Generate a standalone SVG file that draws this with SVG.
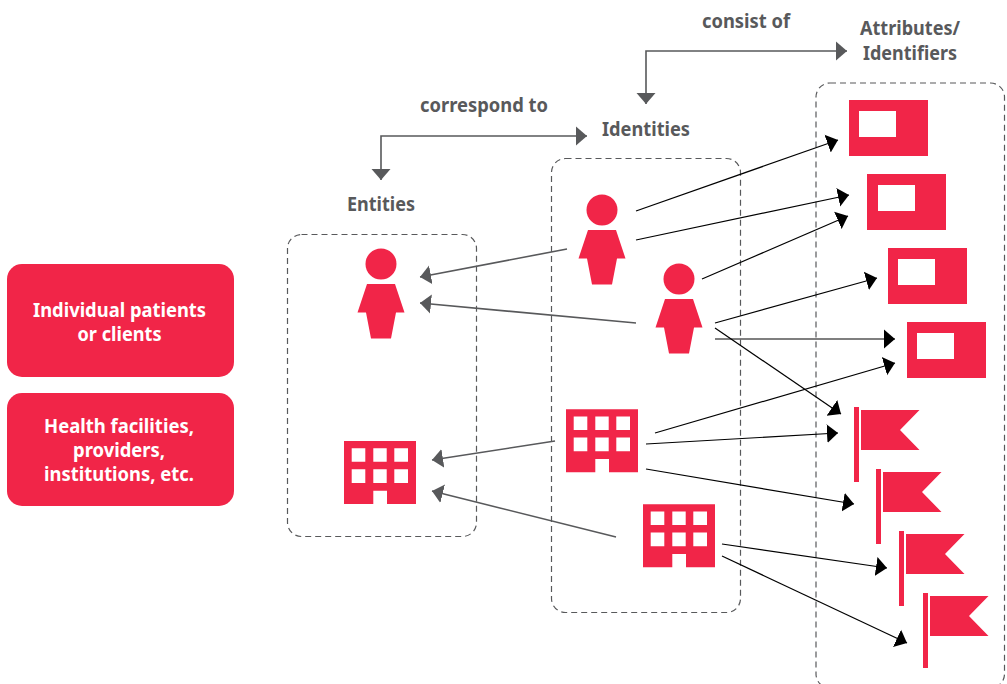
<svg xmlns="http://www.w3.org/2000/svg" xmlns:xlink="http://www.w3.org/1999/xlink" width="1007" height="684" viewBox="0 0 1007 684">
<style>
.red{fill:#f12548}
.win{fill:#fff}
.label{font-family:"Noto Sans","Open Sans","Liberation Sans",sans-serif;font-weight:700;font-size:19.5px;fill:#58595b;text-anchor:middle}
.wlabel{font-family:"Noto Sans","Open Sans","Liberation Sans",sans-serif;font-weight:700;font-size:20px;fill:#fff;text-anchor:middle}
.group{fill:none;stroke:#58595b;stroke-width:1.2;stroke-dasharray:6 4}
.k{fill:none;stroke:#000;stroke-width:1.2;marker-end:url(#ak)}
.g{fill:none;stroke:#58595b;stroke-width:1.6;marker-end:url(#ag);marker-start:url(#ag)}
.g1{fill:none;stroke:#58595b;stroke-width:1.6;marker-end:url(#ag)}
</style>
<defs>
<marker id="ak" markerUnits="userSpaceOnUse" markerWidth="13" markerHeight="22" viewBox="0 0 13 22" refX="11" refY="11" orient="auto-start-reverse"><path d="M0 1.500L11 11L0 20.500Z" fill="#000"/></marker>
<marker id="ag" markerUnits="userSpaceOnUse" markerWidth="13" markerHeight="22" viewBox="0 0 13 22" refX="11" refY="11" orient="auto-start-reverse"><path d="M0 1.500L11 11L0 20.500Z" fill="#58595b"/></marker>
<g id="person"><circle cx="0" cy="0" r="15.5" class="red"/><path class="red" d="M-14 20H14L23.500 48.500H15L10 74.500H-10L-15 48.500H-23.500Z"/></g>
<g id="building"><path class="red" d="M0 0H72V63H43V49.700H29.300V63H0Z"/><path class="win" d="M7.700 7.300h13.600v13.400h-13.600zM29.300 7.300h13.400v13.400h-13.400zM50.300 7.300h13.700v13.400h-13.700zM7.700 28.300h13.600v13.700h-13.600zM29.300 28.300h13.400v13.700h-13.400zM50.300 28.300h13.700v13.700h-13.700z"/></g>
<g id="flag"><rect x="0" y="0" width="5" height="75" class="red"/><path class="red" d="M7 3H65.500L46 23L65.500 43H7Z"/></g>
</defs>
<g id="legend-individuals"><rect x="7" y="264" width="227" height="113" rx="15" class="red"/><text class="wlabel" x="119.500" y="317" textLength="173" lengthAdjust="spacingAndGlyphs">Individual patients</text><text class="wlabel" x="119.500" y="341" textLength="84" lengthAdjust="spacingAndGlyphs">or clients</text></g>
<g id="legend-facilities"><rect x="7" y="393" width="227" height="113" rx="15" class="red"/><text class="wlabel" x="119" y="432.500" textLength="150" lengthAdjust="spacingAndGlyphs">Health facilities,</text><text class="wlabel" x="119" y="456.500" textLength="92" lengthAdjust="spacingAndGlyphs">providers,</text><text class="wlabel" x="119" y="480.500" textLength="150" lengthAdjust="spacingAndGlyphs">institutions, etc.</text></g>
<g id="entities"><rect class="group" x="287.500" y="234.500" width="189" height="302" rx="14"/><text class="label" x="381" y="211" textLength="68" lengthAdjust="spacingAndGlyphs">Entities</text></g>
<g id="identities"><rect class="group" x="551.500" y="158.500" width="189" height="454" rx="14"/><text class="label" x="646" y="136" textLength="88" lengthAdjust="spacingAndGlyphs">Identities</text></g>
<g id="attributes"><rect class="group" x="816" y="83" width="188.500" height="605" rx="14"/><text class="label" x="910" y="35" textLength="100" lengthAdjust="spacingAndGlyphs">Attributes/</text><text class="label" x="910" y="60" textLength="94" lengthAdjust="spacingAndGlyphs">Identifiers</text></g>
<text class="label" x="484" y="112" textLength="128" lengthAdjust="spacingAndGlyphs">correspond to</text>
<text class="label" x="746" y="28" textLength="88" lengthAdjust="spacingAndGlyphs">consist of</text>
<g id="entity-person"><use xlink:href="#person" href="#person" x="381" y="264"/></g>
<g id="entity-building"><use xlink:href="#building" href="#building" x="344" y="441"/></g>
<g id="identity-person-1"><use xlink:href="#person" href="#person" x="602" y="210"/></g>
<g id="identity-person-2"><use xlink:href="#person" href="#person" x="679" y="279"/></g>
<g id="identity-building-1"><use xlink:href="#building" href="#building" x="566" y="409.300"/></g>
<g id="identity-building-2"><use xlink:href="#building" href="#building" x="643" y="504.300"/></g>
<g id="card-1"><rect x="849" y="100" width="79" height="56" class="red"/><rect x="859" y="111" width="37" height="26" class="win"/></g>
<g id="card-2"><rect x="867" y="174" width="79" height="56" class="red"/><rect x="878" y="185" width="37" height="26" class="win"/></g>
<g id="card-3"><rect x="888" y="248" width="79" height="56" class="red"/><rect x="898" y="259" width="37" height="26" class="win"/></g>
<g id="card-4"><rect x="907" y="322" width="79" height="56" class="red"/><rect x="917" y="333" width="37" height="26" class="win"/></g>
<g id="flag-1"><use xlink:href="#flag" href="#flag" x="854" y="407"/></g>
<g id="flag-2"><use xlink:href="#flag" href="#flag" x="876" y="469"/></g>
<g id="flag-3"><use xlink:href="#flag" href="#flag" x="899" y="531"/></g>
<g id="flag-4"><use xlink:href="#flag" href="#flag" x="923" y="593"/></g>
<g id="connectors">
<path class="g" d="M381 180V136H587"/>
<path class="g" d="M646 104V51H847"/>
<path class="g1" d="M567 249L420 277"/>
<path class="g1" d="M636 323L420 303"/>
<path class="g1" d="M555 441L432 460"/>
<path class="g1" d="M616 537L432 491"/>
<path class="k" d="M636 211L838 140"/>
<path class="k" d="M636 240L849 195"/>
<path class="k" d="M702 279L848 216"/>
<path class="k" d="M715 323L877 278"/>
<path class="k" d="M715 339L895 339"/>
<path class="k" d="M655 433L895 363"/>
<path class="k" d="M715 328L841 414"/>
<path class="k" d="M646 444L838 433"/>
<path class="k" d="M646 469L854 504"/>
<path class="k" d="M722 544L887 568"/>
<path class="k" d="M722 556L907 643"/>
</g>
</svg>
